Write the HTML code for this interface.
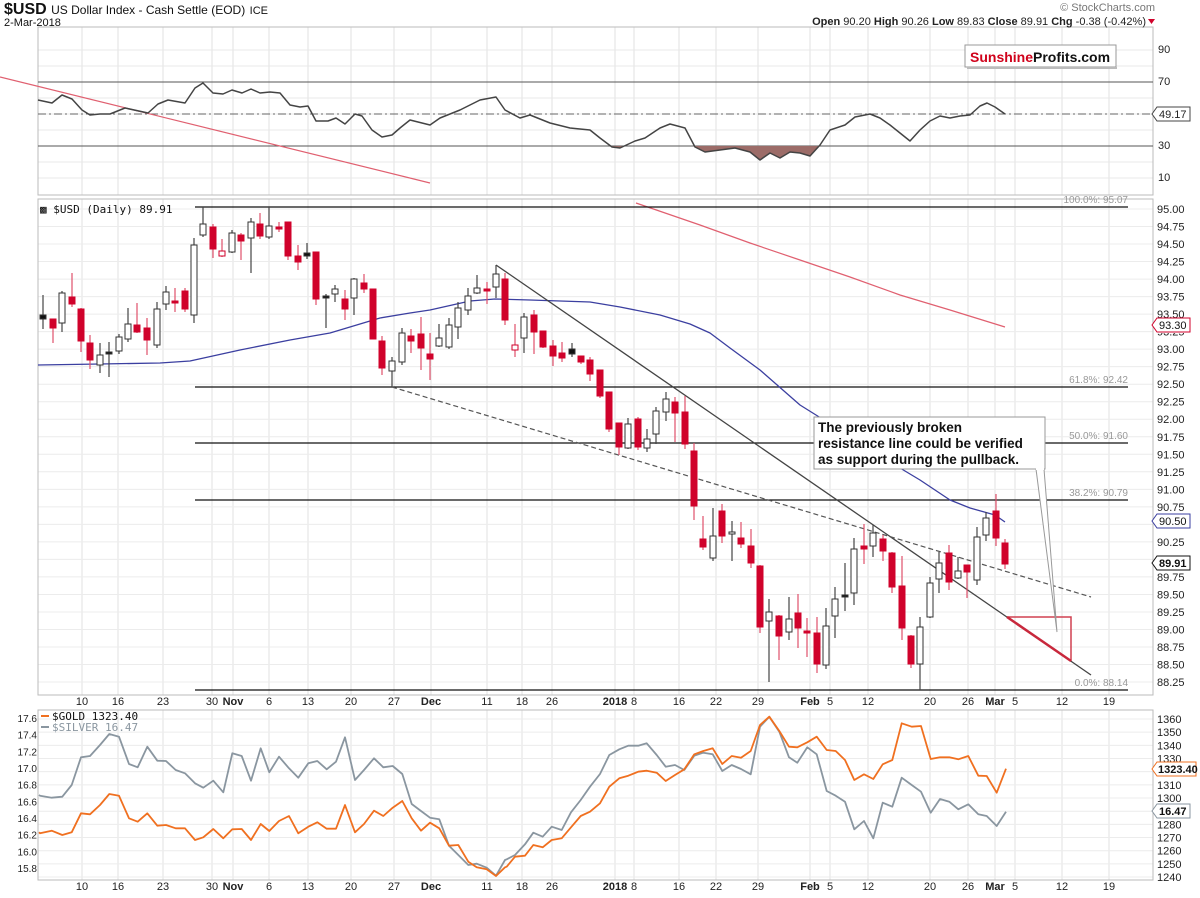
<!DOCTYPE html>
<html><head><meta charset="utf-8">
<style>
html,body{margin:0;padding:0;background:#fff;}
svg{display:block;font-family:"Liberation Sans",sans-serif;}
</style></head>
<body>
<svg id="s" width="1200" height="898" xmlns="http://www.w3.org/2000/svg"></svg>
<script>
var o=[];
function L(x1,y1,x2,y2,c,w,extra){o.push('<line x1="'+x1+'" y1="'+y1+'" x2="'+x2+'" y2="'+y2+'" stroke="'+c+'" stroke-width="'+(w||1)+'" '+(extra||'')+'/>');}
function T(x,y,t,sz,c,extra){o.push('<text x="'+x+'" y="'+y+'" font-size="'+sz+'" fill="'+(c||'#000')+'" '+(extra||'')+'>'+t+'</text>');}
function P(pts,c,w,extra){o.push('<polyline fill="none" points="'+pts.map(function(p){return p[0].toFixed(1)+','+p[1].toFixed(1)}).join(' ')+'" stroke="'+c+'" stroke-width="'+(w||1)+'" stroke-linejoin="round" '+(extra||'')+'/>');}
function Z(ox,oy,arr){return arr.map(function(p){return [ox+p[0]/3,oy+p[1]/3];});}
var X0=38,X1=1153;
var vx=[82,118,163,212,233,269,308,351,394,431,487,522,552,615,634,679,716,758,810,830,868,930,968,995,1015,1062,1109];
var panels=[[27,195],[199,695],[710,880]];
panels.forEach(function(p){
  vx.forEach(function(x){L(x,p[0],x,p[1],'#e2e2e2',1);});
});
[50,66,82,98,114,130,146,162,178].forEach(function(y){L(X0,y,X1,y,'#e8e8e8',1);});
for(var i=0;i<=27;i++){var y=209+i*17.52;L(X0,y,X1,y,'#ececec',1);}
for(var i=0;i<=12;i++){var y=719+i*13.17;L(X0,y,X1,y,'#ececec',1);}
panels.forEach(function(p){o.push('<rect x="'+X0+'" y="'+p[0]+'" width="'+(X1-X0)+'" height="'+(p[1]-p[0])+'" fill="none" stroke="#bbb" stroke-width="1"/>');});

L(X0,82,X1,82,'#555',1);L(X0,146,X1,146,'#555',1);
L(X0,114,X1,114,'#666',1,'stroke-dasharray="8,3,2,3"');
L(0,77,430,183,'#e06070',1.2);
var rsi=[[38,100],[52,103],[62,95],[72,99],[82,110],[90,115],[100,114],[110,114],[125,108],[148,113],[158,104],[168,100],[185,103],[195,88],[203,83],[213,93],[223,94],[232,90],[242,93],[251,89],[260,93],[270,92],[280,93],[290,105],[300,107],[308,106],[316,121],[328,121],[336,118],[345,124],[355,114],[362,116],[372,130],[382,137],[392,135],[400,128],[410,120],[430,125],[440,118],[460,110],[480,100],[496,97],[505,110],[520,118],[530,115],[550,123],[570,128],[590,130],[600,138],[612,147],[620,148],[635,141],[645,138],[660,128],[670,124],[685,128],[695,147],[705,152],[720,150],[735,148],[750,152],[760,160],[770,153],[780,158],[790,152],[800,153],[810,156],[820,145],[830,130],[845,125],[855,117],[870,114],[880,118],[890,125],[900,133],[910,141],[920,130],[930,121],[940,116],[950,118],[960,116],[970,115],[980,106],[987,103],[995,107],[1005,114]];
o.push('<clipPath id="cl"><rect x="0" y="146" width="1200" height="50"/></clipPath>');
o.push('<polygon clip-path="url(#cl)" fill="#9c6c68" points="'+rsi.map(function(p){return p[0]+','+p[1]}).join(' ')+' 1005,146 38,146"/>');
P(rsi,'#444',1.5);
[[90,53],[70,85],[30,149],[10,181]].forEach(function(a){T(1158,a[1],a[0],11,'#222');});
o.push('<path d="M1152,114 l5,-7 h33 v14 h-33 z" fill="#fff" stroke="#444" stroke-width="1"/>');
T(1159,118,'49.17',11,'#222');
o.push('<rect x="965" y="45" width="151" height="22" fill="#fff" stroke="#999" stroke-width="1"/>');
L(967,68,1117,68,'#bbb',2);
o.push('<text x="970" y="62" font-size="14" font-weight="bold" fill="#d0021b">Sunshine<tspan fill="#111">Profits.com</tspan></text>');

T(40,213,'&#9641; $USD (Daily) 89.91',11,'#111','font-family="DejaVu Sans Mono,Liberation Mono,monospace"');
P([[636,203],[700,225],[750,243],[800,260],[850,277],[900,295],[950,310],[1005,327]],'#e06070',1.2);
[[207,'100.0%: 95.07'],[387,'61.8%: 92.42'],[443,'50.0%: 91.60'],[500,'38.2%: 90.79'],[690,'0.0%: 88.14']].forEach(function(f){
 L(195,f[0],1128,f[0],'#111',1.2);T(1128,f[0]-4,f[1],10,'#999','text-anchor="end"');});
P([[38,365],[100,364],[160,363],[190,361],[240,350],[290,340],[330,333],[360,324],[380,318],[410,313],[430,310],[470,301],[495,299],[530,300],[590,302],[620,307],[660,315],[690,324],[710,333],[730,348],[760,370],[800,405],[840,430],[870,450],[900,468],[920,480],[950,500],[970,508],[995,515],[1005,522]],'#3b3fa0',1.3);
L(496,265,1091,675,'#444',1.3);
L(392,387,1091,597,'#555',1.2,'stroke-dasharray="5,3"');
var C=[[43,295,329,315,319,'k'],[53,319,343,319,328,'r'],[62,291,332,293,323,'w'],[72,273,307,297,304,'r'],[81,308,352,309,341,'r'],[90,335,369,343,360,'r'],[100,343,373,355,365,'w'],[109,342,377,352,354,'k'],[119,334,354,337,351,'w'],[128,308,342,324,339,'w'],[137,303,333,325,332,'r'],[147,318,355,328,340,'r'],[157,302,348,309,345,'w'],[166,286,310,292,304,'w'],[175,288,312,301,303,'r'],[185,288,312,291,309,'r'],[194,238,323,245,315,'w'],[203,207,237,224,235,'w'],[213,224,258,227,249,'r'],[222,239,257,251,256,'p'],[232,230,253,233,252,'w'],[241,233,260,235,241,'r'],[251,218,273,222,238,'w'],[260,213,239,224,236,'r'],[269,207,239,226,237,'w'],[279,222,232,227,229,'r'],[288,222,260,222,256,'r'],[298,245,270,256,262,'r'],[307,243,259,253,256,'k'],[316,252,305,252,299,'r'],[326,294,328,296,298,'k'],[335,285,302,289,294,'w'],[345,290,320,299,309,'r'],[354,278,315,279,298,'w'],[364,274,293,283,289,'r'],[373,289,339,289,339,'r'],[382,336,375,341,368,'r'],[392,357,387,361,371,'w'],[402,328,365,333,362,'w'],[411,329,353,336,341,'r'],[421,317,370,334,348,'r'],[430,333,380,354,359,'r'],[439,324,347,338,346,'w'],[449,318,349,325,347,'w'],[458,302,339,308,327,'w'],[468,288,315,296,310,'w'],[477,275,294,288,293,'w'],[487,282,304,289,291,'r'],[496,265,298,274,287,'w'],[505,273,325,279,320,'r'],[515,324,357,345,350,'p'],[524,313,353,317,338,'w'],[534,310,354,315,332,'r'],[543,331,348,331,347,'r'],[553,340,366,346,356,'r'],[562,342,362,353,358,'r'],[572,343,357,349,354,'k'],[581,356,364,356,362,'r'],[590,357,381,360,374,'r'],[600,370,398,370,396,'r'],[609,392,432,392,429,'r'],[619,423,455,423,447,'r'],[628,418,449,424,448,'w'],[638,417,450,419,447,'r'],[647,429,452,439,448,'w'],[656,407,444,411,434,'w'],[666,392,421,399,412,'w'],[675,397,442,402,413,'r'],[685,396,449,412,444,'r'],[694,443,520,451,506,'r'],[703,516,550,539,547,'r'],[713,508,561,536,558,'w'],[722,504,543,511,536,'r'],[732,521,561,532,534,'w'],[741,522,548,538,544,'r'],[751,529,568,546,563,'r'],[760,565,633,566,627,'r'],[769,599,682,612,621,'w'],[779,615,660,616,636,'r'],[789,597,640,619,632,'w'],[798,594,648,613,628,'r'],[807,618,657,631,633,'r'],[817,617,673,633,664,'r'],[826,608,669,626,665,'w'],[835,587,638,599,616,'w'],[845,563,611,595,597,'k'],[854,538,605,549,593,'w'],[864,524,564,546,549,'r'],[873,525,557,533,546,'w'],[883,535,561,539,551,'r'],[892,552,593,553,587,'r'],[902,556,640,586,628,'r'],[911,635,668,636,664,'r'],[920,617,690,627,664,'w'],[930,577,618,583,617,'w'],[939,552,593,563,579,'w'],[949,545,590,553,582,'r'],[958,557,579,571,578,'w'],[967,565,598,565,572,'r'],[977,527,585,537,580,'w'],[986,512,541,518,535,'w'],[996,494,546,511,538,'r'],[1005,539,569,543,564,'r']];
C.forEach(function(c){
 var x=c[0],t=c[5];
 var col=(t=='r'||t=='p')?'#d0022b':'#333';
 var wc=(t=='r'||t=='p')?'#e0506a':'#444';
 L(x,c[1],x,c[2],wc,1.2);
 var h=Math.max(c[4]-c[3],1.5);
 var fill=t=='r'?'#d0022b':(t=='k'?'#111':'#fff');
 o.push('<rect x="'+(x-3)+'" y="'+c[3]+'" width="6" height="'+h+'" fill="'+fill+'" stroke="'+col+'" stroke-width="1"/>');
});
o.push('<polyline points="1007,617 1071,617 1071,661" fill="none" stroke="#d04050" stroke-width="1.5"/>');
L(1007,617,1071,661,'#c8283c',2.5);
o.push('<polygon points="1036,469 1044,469 1057,632" fill="#fff" stroke="#999" stroke-width="1"/>');
o.push('<rect x="814" y="417" width="231" height="52" fill="#fff" stroke="#999" stroke-width="1"/>');
L(1036,469,1044,469,'#fff',2);
T(818,432,'The previously broken',13.5,'#111','font-weight="bold"');
T(818,448,'resistance line could be verified',13.5,'#111','font-weight="bold"');
T(818,464,'as support during the pullback.',13.5,'#111','font-weight="bold"');
for(var i=0;i<=27;i++){var v=95-i*0.25;var y=209+i*17.52;T(1157,y+4,v.toFixed(2),11,'#222');}
function box(y,txt,c,bold){o.push('<path d="M1152,'+y+' l5,-7 h33 v14 h-33 z" fill="#fff" stroke="'+c+'" stroke-width="1"/>');T(1159,y+4,txt,11,'#111',bold?'font-weight="bold"':'');}
o.push('<rect x="1155" y="318" width="36" height="15" fill="#fff"/>');
box(325,'93.30','#d0022b');
o.push('<rect x="1155" y="514" width="36" height="15" fill="#fff"/>');
box(521,'90.50','#3b3fa0');
o.push('<rect x="1155" y="555" width="36" height="15" fill="#fff"/>');
box(563,'89.91','#111',true);

var lab=[[82,'10'],[118,'16'],[163,'23'],[212,'30'],[233,'Nov',1],[269,'6'],[308,'13'],[351,'20'],[394,'27'],[431,'Dec',1],[487,'11'],[522,'18'],[552,'26'],[615,'2018',1],[634,'8'],[679,'16'],[716,'22'],[758,'29'],[810,'Feb',1],[830,'5'],[868,'12'],[930,'20'],[968,'26'],[995,'Mar',1],[1015,'5'],[1062,'12'],[1109,'19']];
[705,890].forEach(function(y){lab.forEach(function(l){T(l[0],y,l[1],11,'#222','text-anchor="middle"'+(l[2]?' font-weight="bold"':''));});});

var sil=Z(30,705,[[27,270],[30,272],[65,278],[97,275],[125,240],[153,157],[180,153],[210,120],[238,87],[267,95],[297,177],[323,187],[352,125],[382,167],[408,168],[437,195],[465,205],[495,235],[520,248],[550,227],[580,262],[607,145],[635,153],[663,227],[692,130],[718,202],[747,155],[777,190],[805,218],[835,175],[862,168],[890,193],[918,170],[945,97],[975,225],[1002,195],[1032,160],[1060,187],[1088,183],[1117,207],[1145,297],[1173,318],[1200,338],[1228,343],[1257,422],[1285,450],[1315,480],[1340,476],[1370,488],[1398,512],[1425,465]]).concat(Z(500,705,[[20,463],[45,450],[75,418],[100,383],[128,395],[155,365],[185,375],[213,322],[242,285],[270,245],[300,207],[328,150],[358,133],[385,122],[415,122],[440,115],[470,150],[497,185],[525,180],[553,195],[583,152],[610,143],[638,148],[667,198],[695,180],[723,192],[752,208],[780,65],[808,35],[838,80],[867,157],[892,173],[922,127],[950,148],[980,258],[1007,272],[1035,290],[1063,373],[1092,348],[1120,400],[1148,293],[1177,305],[1205,218],[1235,240],[1263,260],[1292,323],[1320,282],[1348,290],[1375,313],[1405,298],[1435,328]])).concat(Z(900,660,[[260,468],[290,498],[318,455]]));
var gold=Z(30,705,[[27,382],[30,385],[65,377],[97,390],[125,382],[153,325],[180,328],[210,300],[238,267],[267,272],[297,340],[323,350],[352,325],[382,362],[408,360],[437,370],[465,370],[495,405],[520,397],[550,372],[580,400],[607,373],[635,372],[663,405],[692,357],[718,378],[747,348],[777,333],[805,385],[835,365],[862,352],[890,371],[918,371],[945,300],[975,382],[1002,357],[1032,317],[1060,333],[1088,308],[1117,288],[1145,340],[1173,377],[1200,353],[1228,370],[1257,422],[1285,420],[1315,470],[1340,487],[1370,493],[1398,513],[1425,487]]).concat(Z(500,705,[[20,485],[45,455],[75,452],[100,420],[128,427],[155,405],[185,400],[213,367],[242,333],[270,320],[300,295],[328,245],[358,220],[385,212],[415,200],[440,197],[470,203],[497,228],[525,210],[553,193],[583,148],[610,138],[638,130],[667,177],[695,153],[723,158],[752,138],[780,60],[808,35],[838,78],[867,125],[892,127],[922,112],[950,95],[980,135],[1007,138],[1035,165],[1063,225],[1092,208],[1120,222],[1148,178],[1177,165],[1205,55],[1235,65],[1263,63],[1292,162],[1320,157],[1348,157],[1375,163],[1405,153],[1435,212]])).concat(Z(900,660,[[260,348],[290,398],[318,326]]));
P(sil,'#8a96a0',1.8);
P(gold,'#f07020',1.8);
['17.6','17.4','17.2','17.0','16.8','16.6','16.4','16.2','16.0','15.8'].forEach(function(v,i){T(37,722+i*16.67,v,10,'#222','text-anchor="end"');});
L(41,716,49,716,'#f07020',2);T(52,720,'$GOLD 1323.40',11,'#111','font-family="DejaVu Sans Mono,Liberation Mono,monospace"');
L(41,727,49,727,'#8a96a0',2);T(52,731,'$SILVER 16.47',11,'#8a96a0','font-family="DejaVu Sans Mono,Liberation Mono,monospace"');
for(var i=0;i<=12;i++){T(1157,723+i*13.17,1360-i*10,11,'#222');}
o.push('<rect x="1155" y="762" width="42" height="15" fill="#fff"/>');
o.push('<path d="M1152,769 l5,-7 h39 v14 h-39 z" fill="#fff" stroke="#f07020" stroke-width="1"/>');T(1158,773,'1323.40',11,'#111','font-weight="bold"');
o.push('<path d="M1152,811 l5,-7 h33 v14 h-33 z" fill="#fff" stroke="#8a96a0" stroke-width="1"/>');T(1159,815,'16.47',11,'#111','font-weight="bold"');

o.push('<text x="4" y="14" font-size="16" font-weight="bold" fill="#111">$USD <tspan font-size="12" font-weight="normal">US Dollar Index - Cash Settle (EOD)</tspan> <tspan font-size="11" font-weight="normal">ICE</tspan></text>');
T(4,26,'2-Mar-2018',11,'#111');
T(1155,11,'&#169; StockCharts.com',11,'#777','text-anchor="end"');
o.push('<text x="1146" y="25" font-size="11" fill="#222" text-anchor="end"><tspan font-weight="bold">Open</tspan> 90.20 <tspan font-weight="bold">High</tspan> 90.26 <tspan font-weight="bold">Low</tspan> 89.83 <tspan font-weight="bold">Close</tspan> 89.91 <tspan font-weight="bold">Chg</tspan> -0.38 (-0.42%)</text>');
o.push('<polygon points="1148,19 1155,19 1151.5,24" fill="#d0022b"/>');
document.getElementById('s').innerHTML=o.join('');
</script>
</body></html>
